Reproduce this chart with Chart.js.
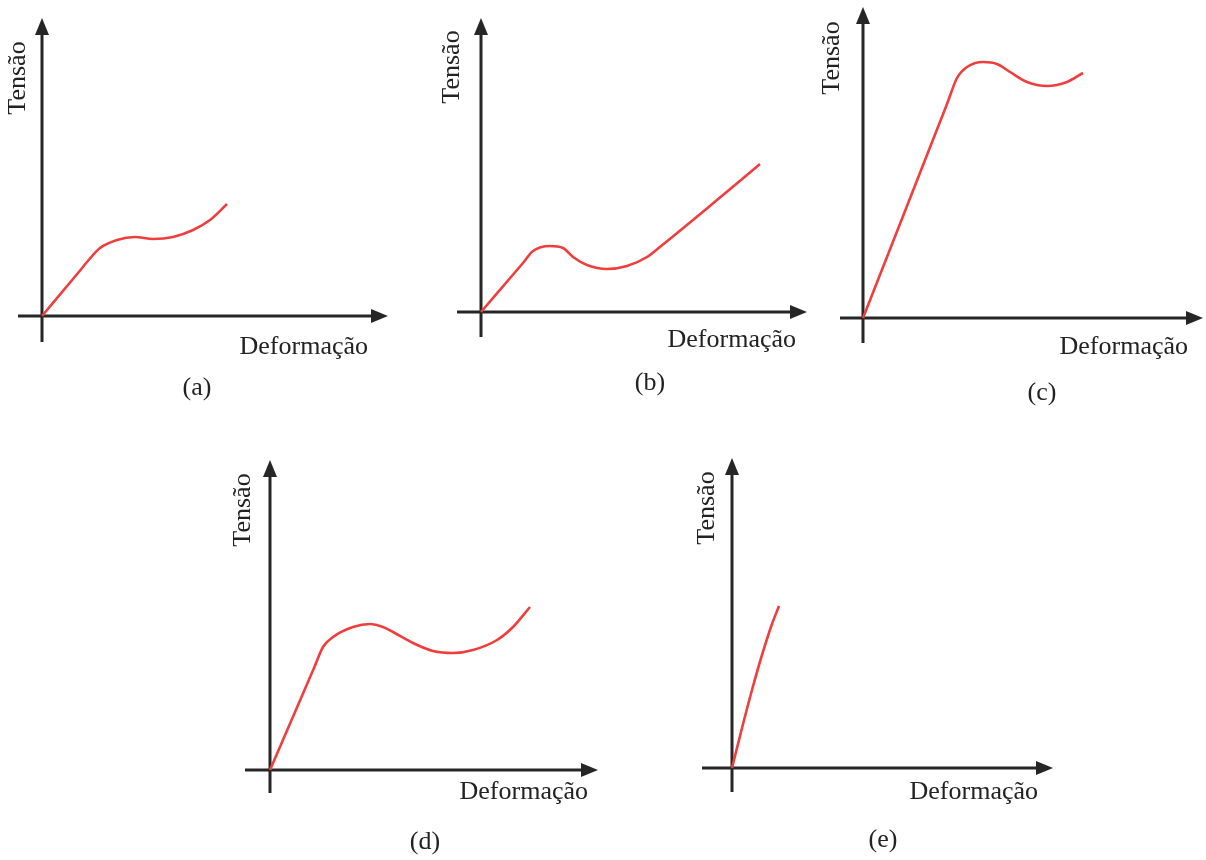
<!DOCTYPE html>
<html>
<head>
<meta charset="utf-8">
<script src="https://cdn.jsdelivr.net/npm/chart.js@4.4.1/dist/chart.umd.min.js"></script>
<style>
  body { margin: 0; background: #fff; width: 1206px; height: 860px; position: relative; overflow: hidden; }
  canvas { position: absolute; }
</style>
</head>
<body>
<canvas id="chartA"></canvas>
<canvas id="chartB"></canvas>
<canvas id="chartC"></canvas>
<canvas id="chartD"></canvas>
<canvas id="chartE"></canvas>
<script>
// texts
const xTitle = 'Deformação';
const yTitle = 'Tensão';
const captions = ['(a)', '(b)', '(c)', '(d)', '(e)'];

// curves (deformação, tensão), origin at the axes crossing
const strainA = [0, 36, 45, 58, 75, 93, 111, 131, 151, 168, 185];
const stressA = [0, 43, 54, 68, 76, 79, 77, 79, 86, 96, 112];

const strainB = [0, 42, 52, 69, 82, 92, 106, 126, 146, 166, 180, 230, 279];
const stressB = [0, 49, 61, 66, 64, 55, 47, 43, 46, 55, 66, 107, 148];

const strainC = [0, 84, 94, 104, 120, 134, 147, 164, 184, 204, 220];
const stressC = [0, 214, 240, 251, 256, 254, 246, 236, 232, 236, 245];

const strainD = [0, 44, 53, 63, 83, 100, 113, 123, 143, 163, 183, 203, 227, 243, 260];
const stressD = [0, 102, 123, 133, 143, 146, 143, 138, 127, 119, 117, 120, 130, 143, 163];

const strainE = [0, 10, 20, 30, 40, 47];
const stressE = [0, 40, 78, 113, 144, 162];

// panel layout: canvas box, axis crossing on the page, axis extents and text spots
const panels = [
  { id: 'chartA', box: [0, 0, 410, 420], origin: [42, 316], xs: strainA, ys: stressA,
    xAxis: [-24, 346], yAxis: [-26, 298], xLab: [326, -31], yLab: [-24, 238], cap: [155, -72] },
  { id: 'chartB', box: [410, 0, 410, 420], origin: [481, 312], xs: strainB, ys: stressB,
    xAxis: [-24, 326], yAxis: [-25, 294], xLab: [315, -28], yLab: [-29, 245], cap: [169, -71] },
  { id: 'chartC', box: [820, 0, 386, 420], origin: [863, 318], xs: strainC, ys: stressC,
    xAxis: [-23, 340], yAxis: [-25, 311], xLab: [325, -29], yLab: [-31, 260], cap: [179, -75] },
  { id: 'chartD', box: [200, 440, 420, 420], origin: [270, 770], xs: strainD, ys: stressD,
    xAxis: [-25, 328], yAxis: [-23, 310], xLab: [318, -22], yLab: [-27, 260], cap: [155, -72] },
  { id: 'chartE', box: [680, 440, 420, 420], origin: [732, 768], xs: strainE, ys: stressE,
    xAxis: [-30, 321], yAxis: [-24, 310], xLab: [306, -24], yLab: [-25, 260], cap: [151, -72] }
];

const axisColor = '#262626';
const textColor = '#222';
const curveColor = 'rgb(240, 62, 62)';
const font = '"Liberation Serif", "Times New Roman", serif';

// draws the arrowed axes and the labels from the chart's own scales
const arrowAxes = {
  id: 'arrowAxes',
  beforeDatasetsDraw(chart, args, opts) {
    const { ctx, scales: { x, y } } = chart;
    const x0 = x.getPixelForValue(0), y0 = y.getPixelForValue(0);
    const xs = x.getPixelForValue(opts.xAxis[0]), xe = x.getPixelForValue(opts.xAxis[1]);
    const ys = y.getPixelForValue(opts.yAxis[0]), ye = y.getPixelForValue(opts.yAxis[1]);
    const len = 17, half = 7;
    ctx.save();
    ctx.strokeStyle = axisColor;
    ctx.fillStyle = axisColor;
    ctx.lineWidth = 3;
    ctx.beginPath();
    ctx.moveTo(xs, y0); ctx.lineTo(xe - len + 2, y0);
    ctx.moveTo(x0, ys); ctx.lineTo(x0, ye + len - 2);
    ctx.stroke();
    ctx.beginPath();
    ctx.moveTo(xe, y0); ctx.lineTo(xe - len, y0 - half); ctx.lineTo(xe - len, y0 + half);
    ctx.closePath(); ctx.fill();
    ctx.beginPath();
    ctx.moveTo(x0, ye); ctx.lineTo(x0 - half, ye + len); ctx.lineTo(x0 + half, ye + len);
    ctx.closePath(); ctx.fill();
    ctx.restore();
  },
  afterDraw(chart, args, opts) {
    const { ctx, scales: { x, y } } = chart;
    ctx.save();
    ctx.fillStyle = textColor;
    ctx.textBaseline = 'middle';
    ctx.font = '26px ' + font;
    ctx.textAlign = 'right';
    ctx.fillText(xTitle, x.getPixelForValue(opts.xLab[0]), y.getPixelForValue(opts.xLab[1]));
    ctx.save();
    ctx.translate(x.getPixelForValue(opts.yLab[0]), y.getPixelForValue(opts.yLab[1]));
    ctx.rotate(-Math.PI / 2);
    ctx.textAlign = 'center';
    ctx.fillText(yTitle, 0, 0);
    ctx.restore();
    ctx.font = '26px ' + font;
    ctx.textAlign = 'center';
    ctx.fillText(opts.caption, x.getPixelForValue(opts.cap[0]), y.getPixelForValue(opts.cap[1]));
    ctx.restore();
  }
};

panels.forEach(function (p, i) {
  const el = document.getElementById(p.id);
  const [left, top, w, h] = p.box;
  el.width = w; el.height = h;
  el.style.left = left + 'px';
  el.style.top = top + 'px';

  const points = p.xs.map((v, k) => ({ x: v, y: p.ys[k] }));

  new Chart(el, {
    type: 'line',
    data: {
      datasets: [{
        data: points,
        borderColor: curveColor,
        borderWidth: 2.6,
        pointRadius: 0,
        fill: false,
        cubicInterpolationMode: 'monotone'
      }]
    },
    options: {
      responsive: false,
      animation: false,
      events: [],
      layout: { padding: 0 },
      scales: {
        x: { type: 'linear', display: false, min: left - p.origin[0], max: left + w - p.origin[0] },
        y: { type: 'linear', display: false, min: p.origin[1] - (top + h), max: p.origin[1] - top }
      },
      plugins: {
        legend: { display: false },
        tooltip: { enabled: false },
        arrowAxes: {
          xAxis: p.xAxis, yAxis: p.yAxis, xLab: p.xLab, yLab: p.yLab, cap: p.cap,
          caption: captions[i]
        }
      }
    },
    plugins: [arrowAxes]
  });
});
</script>
</body>
</html>
